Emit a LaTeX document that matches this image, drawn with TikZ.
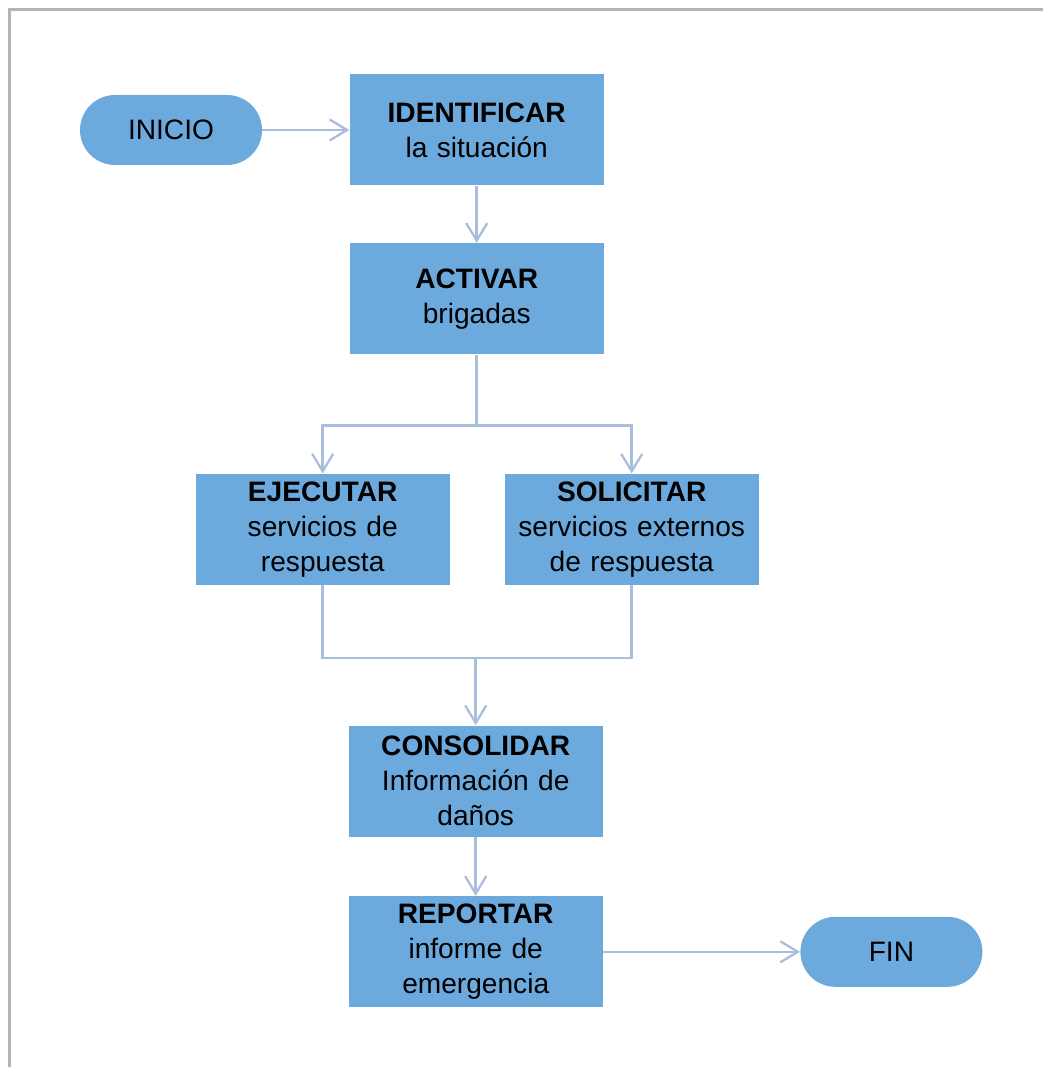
\documentclass[tikz,border=0pt]{standalone}
\usepackage{fontspec}
\setmainfont{Liberation Sans}
\usetikzlibrary{positioning,arrows.meta}

\definecolor{boxblue}{RGB}{108,170,221}
\definecolor{linkblue}{RGB}{168,190,220}
\definecolor{framegray}{RGB}{180,180,180}

\begin{document}
\begin{tikzpicture}[node distance=1.16cm,
    stepbox/.style={rectangle, fill=boxblue, text width=5cm, align=center, minimum width=5.08cm, minimum height=2.22cm, inner sep=0pt, font=\fontsize{16}{20}\selectfont},
    terminal/.style={rectangle, rounded corners=0.7cm, fill=boxblue, minimum width=3.64cm, minimum height=1.4cm, inner sep=0pt, font=\fontsize{16}{20}\selectfont},
    link/.style={draw=linkblue, line width=1.4pt},
    arrow/.style={link, -{Straight Barb[length=10pt, width=12pt, line width=1.3pt]}}]

    \useasboundingbox (0,0) rectangle (20.86,-21.34);
    % Frame (left and top edges)
    \draw[framegray, line width=1.7pt] (0.19,-21.34) |- (20.86,-0.19);

    % Start and first steps
    \node[terminal] (inicio) at (3.42,-2.6) {INICIO};
    \node[stepbox, right=1.74cm of inicio] (identificar) {\textbf{IDENTIFICAR}\\la situación};
    \node[stepbox, below=1.14cm of identificar] (activar) {\textbf{ACTIVAR}\\brigadas};

    % Parallel branches
    \node[stepbox, below=2.38cm of activar, xshift=-3.08cm] (ejecutar) {\textbf{EJECUTAR}\\servicios de\\respuesta};
    \node[stepbox, below=2.38cm of activar, xshift=3.1cm] (solicitar) {\textbf{SOLICITAR}\\servicios externos\\de respuesta};

    % Closing steps
    \node[stepbox, below=2.8cm of ejecutar.south, anchor=north, xshift=3.06cm] (consolidar) {\textbf{CONSOLIDAR}\\Información de\\daños};
    \node[stepbox, below=1.18cm of consolidar] (reportar) {\textbf{REPORTAR}\\informe de\\emergencia};
    \node[terminal, right=3.94cm of reportar] (fin) {FIN};

    % Split and merge points
    \coordinate[below=1.42cm of activar] (split);
    \coordinate[below=1.46cm of ejecutar] (merge);

    % Arrows
    \draw[arrow] (inicio) -- (identificar);
    \draw[arrow] (identificar) -- (activar);
    \draw[link] (activar) -- (split);
    \draw[arrow] (split) -| (ejecutar);
    \draw[arrow] (split) -| (solicitar);
    \draw[link] (ejecutar) -- (merge) -| (solicitar);
    \draw[arrow] (merge -| consolidar) -- (consolidar);
    \draw[arrow] (consolidar) -- (reportar);
    \draw[arrow] (reportar) -- (fin);

\end{tikzpicture}
\end{document}
